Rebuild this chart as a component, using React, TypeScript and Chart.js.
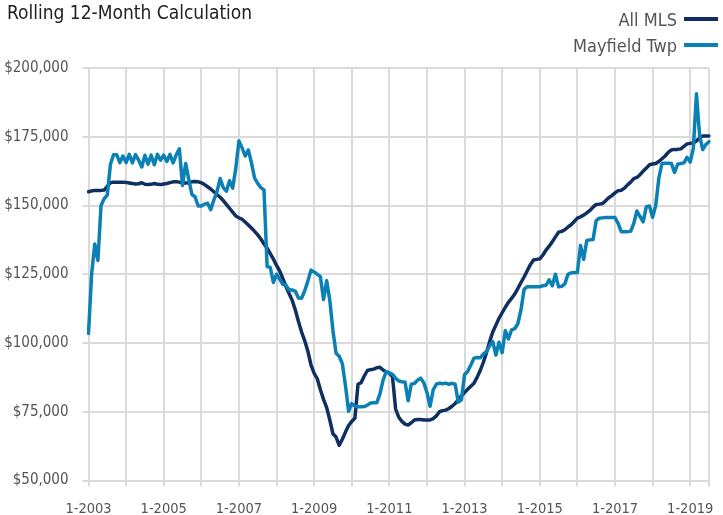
import React, { useEffect, useRef } from 'react';
import { Chart, registerables } from 'chart.js';

Chart.register(...registerables);

const FONT = '"DejaVu Sans Condensed", "DejaVu Sans", sans-serif';
const DARK = '#0e2f5f';
const LIGHT = '#0a80b5';
const GRID = '#dadada';
const TEXT = '#555555';

const titleText = 'Rolling 12-Month Calculation';
const seriesNames = ['All MLS', 'Mayfield Twp'];

// Monthly categories from 1-2003 through 7-2019
const startYear = 2003;
const monthCount = 199;
const categories: string[] = [];
for (let i = 0; i < monthCount; i++) {
  categories.push(`${(i % 12) + 1}-${startYear + Math.floor(i / 12)}`);
}

const tickLabels = ['1-2003', '1-2005', '1-2007', '1-2009', '1-2011', '1-2013', '1-2015', '1-2017', '1-2019'];

const allMLS = [
  155000, 155300, 155500, 155500, 155500, 155600, 157000, 158300, 158500, 158500,
  158500, 158500, 158400, 158200, 158000, 157800, 157900, 158300, 157700, 157600,
  157700, 158000, 157700, 157600, 157800, 158000, 158300, 158600, 158600, 158500,
  158200, 158200, 158300, 158600, 158700, 158600, 158300, 157600, 156800, 156000,
  155000, 154000, 153000, 151800, 150400, 149000, 147600, 146200, 145500, 145000,
  144000, 142900, 141800, 140600, 139300, 137800, 136000, 134500, 132500, 130500,
  128200, 126200, 123500, 120500, 118000, 115500, 112000, 107800, 104000, 100800,
  97000, 92000, 89000, 87000, 83000, 79500, 76500, 72000, 67000, 65800,
  62800, 65000, 67600, 70000, 71500, 72600, 85000, 85600, 88000, 90000,
  90300, 90500, 91000, 91200, 90200, 89500, 89000, 87800, 76000, 73000,
  71500, 70500, 70200, 71000, 72000, 72200, 72200, 72000, 72000, 72000,
  72500, 73500, 75000, 75400, 75600, 76200, 77000, 78000, 79300, 80800,
  82000, 83200, 84300, 85400, 87500, 90000, 93000, 96500, 100500, 104000,
  106500, 109000, 111000, 113000, 114800, 116200, 117800, 119800, 122000, 124000,
  126300, 128500, 130200, 130400, 130600, 132000, 133800, 135200, 136800, 138600,
  140300, 140600, 141200, 142200, 143000, 144200, 145400, 145900, 146500, 147300,
  148200, 149400, 150400, 150500, 150700, 151700, 152800, 153600, 154600, 155400,
  155500, 156300, 157500, 158500, 159800, 160200, 161200, 162500, 163600, 164800,
  165100, 165300, 166000, 167000, 168000, 169300, 170200, 170400, 170400, 170600,
  171500, 172400, 172600, 172700, 173500, 174500, 175300, 175300, 175300,
];

const mayfieldTwp = [
  103500, 125000, 136000, 130000, 150000, 152500, 153800, 165000, 168500, 168500,
  165600, 168000, 165600, 168600, 165500, 168500, 166500, 164000, 168300, 165000,
  168300, 164800, 168600, 166500, 168300, 166000, 168600, 165500, 168400, 170600,
  157300, 165300, 159500, 154000, 153200, 149800, 149800, 150500, 150800, 148500,
  152000, 155000, 159800, 156500, 155200, 159000, 156300, 163500, 173500, 171000,
  168000, 170200, 165500, 160000, 158000, 156500, 155700, 127800, 127500, 122000,
  125000, 123200, 121300, 121000, 119300, 119300, 118800, 116400, 116300, 119000,
  122500, 126500, 125800, 125000, 124100, 115800, 122600, 115500, 104500, 96300,
  95200, 92500, 84500, 75200, 78000, 77000, 76800, 76800, 76900, 77400,
  78200, 78300, 78300, 81500, 86500, 89600, 89200, 88600, 87200, 86200,
  85900, 85800, 79000, 85000, 85300, 86500, 87200, 85500, 82000, 77000,
  83000, 85000, 85400, 85200, 85400, 85000, 85300, 85000, 78500, 79300,
  88500, 89600, 92000, 94500, 94700, 94600, 96000, 96800, 99000, 100500,
  95600, 100300, 96500, 104500, 101500, 104800, 105200, 107000, 112000, 119500,
  120500, 120500, 120500, 120500, 120500, 120800, 121000, 123000, 120800, 125000,
  120400, 120600, 121500, 125000, 125500, 125600, 125600, 135500, 130400, 137300,
  137500, 137600, 144500, 145400, 145500, 145600, 145600, 145600, 145600, 143500,
  140500, 140500, 140500, 140600, 143500, 148000, 146000, 144100, 149600, 149800,
  145700, 150000, 160000, 165300, 165400, 165400, 165300, 162000, 165000, 165300,
  165500, 167500, 165800, 170800, 190600, 175500, 170300, 172200, 173200,
];

export default function App() {
  const ref = useRef<HTMLCanvasElement>(null);

  useEffect(() => {
    const canvas = ref.current;
    if (!canvas) return;
    const chart = new Chart(canvas, {
      type: 'line',
      data: {
        labels: categories,
        datasets: [
          {
            label: seriesNames[0],
            data: allMLS,
            borderColor: DARK,
            backgroundColor: DARK,
            borderWidth: 3.5,
            pointRadius: 0,
            tension: 0,
            borderJoinStyle: 'round',
            borderCapStyle: 'round',
            order: 1,
          },
          {
            label: seriesNames[1],
            data: mayfieldTwp,
            borderColor: LIGHT,
            backgroundColor: LIGHT,
            borderWidth: 3.5,
            pointRadius: 0,
            tension: 0,
            borderJoinStyle: 'round',
            borderCapStyle: 'round',
            order: 0,
          },
        ],
      },
      options: {
        responsive: false,
        animation: false,
        devicePixelRatio: 1,
        layout: { padding: { top: 68, right: 6, left: 0, bottom: 0 } },
        plugins: {
          legend: { display: false },
          title: { display: false },
          tooltip: { enabled: false },
        },
        scales: {
          x: {
            type: 'category',
            offset: false,
            grid: {
              color: (c: any) =>
                c.index % 12 === 0 || c.index === monthCount - 1 ? GRID : 'rgba(0,0,0,0)',
              lineWidth: 2,
              tickLength: 6,
              drawTicks: true,
            },
            border: { display: false },
            ticks: {
              autoSkip: false,
              maxRotation: 0,
              minRotation: 0,
              padding: 14,
              color: TEXT,
              font: { family: FONT, size: 14.5 },
              callback: (_v: any, i: number) =>
                tickLabels.includes(categories[i]) ? categories[i] : '',
            },
            afterFit: (s: any) => {
              s.height = 34.5;
            },
          },
          y: {
            min: 50000,
            max: 200000,
            grid: { color: GRID, lineWidth: 2, tickLength: 6 },
            border: { display: false },
            ticks: {
              stepSize: 25000,
              padding: 14,
              color: TEXT,
              font: { family: FONT, size: 15 },
              callback: (v: any) => '$' + Number(v).toLocaleString('en-US'),
            },
            afterFit: (s: any) => {
              s.width = 88.5;
            },
          },
        },
      },
    });
    return () => chart.destroy();
  }, []);

  const legendRow = (name: string, color: string, top: number) => (
    <div
      key={name}
      style={{
        position: 'absolute',
        right: 5,
        top,
        height: 26,
        display: 'flex',
        alignItems: 'center',
        fontFamily: FONT,
        fontSize: 18,
        color: TEXT,
        whiteSpace: 'nowrap',
      }}
    >
      <span>{name}</span>
      <span
        style={{
          display: 'inline-block',
          width: 34,
          height: 4,
          background: color,
          marginLeft: 7,
        }}
      />
    </div>
  );

  return (
    <div
      style={{
        position: 'fixed',
        left: 0,
        top: 0,
        width: 723,
        height: 515,
        background: '#ffffff',
        overflow: 'hidden',
      }}
    >
      <canvas ref={ref} width={723} height={515} style={{ position: 'absolute', left: 0, top: 0 }} />
      <div
        style={{
          position: 'absolute',
          left: 7,
          top: 1,
          fontFamily: FONT,
          fontSize: 19,
          lineHeight: '23px',
          color: '#222222',
          whiteSpace: 'nowrap',
        }}
      >
        {titleText}
      </div>
      {legendRow(seriesNames[0], DARK, 6)}
      {legendRow(seriesNames[1], LIGHT, 32)}
    </div>
  );
}
